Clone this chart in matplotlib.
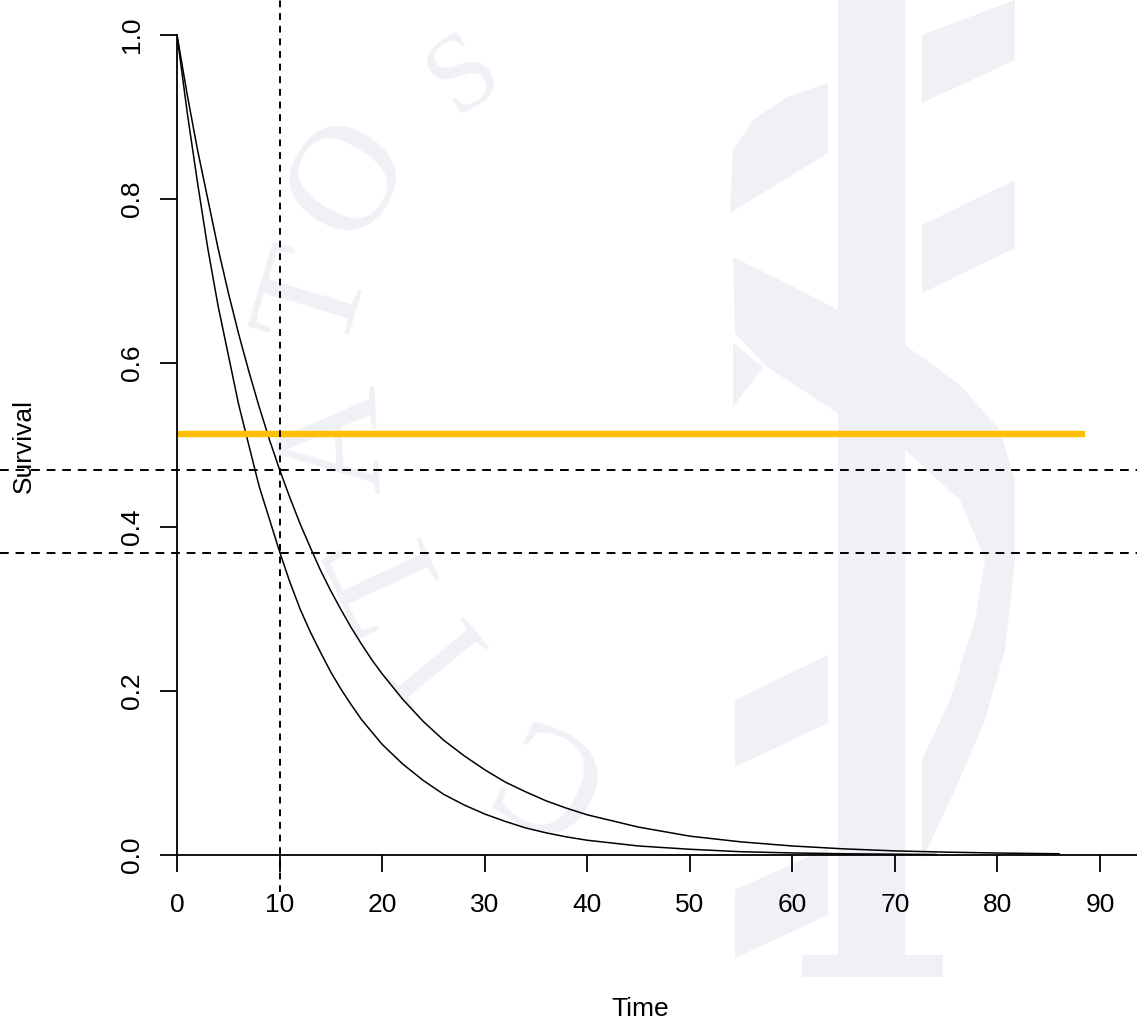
import matplotlib

matplotlib.use("Agg")
import matplotlib.pyplot as plt
import numpy as np
from matplotlib.patches import Polygon

plt.rcParams["font.family"] = ["Liberation Sans", "DejaVu Sans"]

# survival curves
time_fast = [0, 1, 2, 3, 4, 5, 6, 7, 8, 9, 10, 11, 12, 13, 14, 15, 16, 17, 18, 19, 20,
             22, 24, 26, 28, 30, 32, 34, 36, 38, 40, 45, 50, 55, 60, 65, 70, 74]
surv_fast = [1.0, 0.905, 0.82, 0.74, 0.67, 0.61, 0.55, 0.50, 0.45, 0.41, 0.37, 0.333,
             0.30, 0.272, 0.247, 0.223, 0.202, 0.183, 0.165, 0.15, 0.135, 0.111,
             0.091, 0.074, 0.061, 0.05, 0.041, 0.033, 0.027, 0.022, 0.018, 0.011,
             0.007, 0.004, 0.0025, 0.0015, 0.001, 0.0006]
time_slow = [0, 1, 2, 3, 4, 5, 6, 7, 8, 9, 10, 11, 12, 13, 14, 15, 16, 17, 18, 19, 20,
             22, 24, 26, 28, 30, 32, 34, 36, 38, 40, 45, 50, 55, 60, 65, 70, 75, 80, 86]
surv_slow = [1.0, 0.927, 0.86, 0.80, 0.74, 0.686, 0.636, 0.59, 0.547, 0.507, 0.47,
             0.436, 0.404, 0.375, 0.347, 0.322, 0.299, 0.277, 0.257, 0.238, 0.221,
             0.19, 0.163, 0.14, 0.121, 0.104, 0.089, 0.077, 0.066, 0.057, 0.049,
             0.034, 0.023, 0.016, 0.011, 0.0075, 0.005, 0.0035, 0.0024, 0.0015]

ref_levels = [0.47, 0.368]   # dashed horizontal lines
ref_time = 10                # dashed vertical line
target_level = 0.513         # orange line
target_end = 88.5

x_ticks = [0, 10, 20, 30, 40, 50, 60, 70, 80, 90]
y_ticks = [0.0, 0.2, 0.4, 0.6, 0.8, 1.0]

W, H = 1137, 1025
fig = plt.figure(figsize=(W / 100, H / 100), dpi=100)

# faint logo watermark in the background (pixel coordinates)
bg = fig.add_axes([0, 0, 1, 1], zorder=0)
bg.set_xlim(0, W)
bg.set_ylim(H, 0)
bg.axis("off")
wm = "#f0f1f7"
shapes = [
    [(838, 0), (905, 0), (905, 955), (838, 955)],
    [(802, 955), (943, 955), (943, 977), (802, 977)],
    [(922, 35), (1015, 0), (1015, 60), (922, 103)],
    [(922, 225), (1015, 180), (1015, 248), (922, 293)],
    [(735, 700), (828, 655), (828, 723), (735, 767)],
    [(735, 890), (828, 848), (828, 915), (735, 958)],
    [(730, 213), (733, 150), (753, 120), (787, 97), (828, 83), (828, 153), (730, 213)],
    [(733, 257), (790, 285), (838, 310), (905, 345), (960, 385), (1000, 430),
     (1015, 480), (1015, 560), (1005, 650), (985, 720), (955, 790), (922, 860),
     (922, 760), (950, 700), (975, 620), (985, 560), (960, 500), (905, 450),
     (838, 413), (767, 367), (735, 333)],
    [(733, 343), (763, 367), (733, 407)],
]
for pts in shapes:
    bg.add_patch(Polygon(pts, closed=True, facecolor=wm, edgecolor="none"))

cx, cy = 720, 420
letters = [("S", 465, 75, 80), ("O", 352, 180, 110), ("T", 320, 300, 110),
           ("A", 340, 440, 110), ("T", 395, 570, 110), ("I", 440, 650, 110),
           ("C", 545, 765, 110)]
for ch, lx, ly, size in letters:
    rot = np.degrees(np.arctan2(-(lx - cx), -(ly - cy)))
    bg.text(lx, ly, ch, fontsize=size, family="Liberation Serif", color=wm,
            rotation=rot, ha="center", va="center", rotation_mode="anchor")

# main plot
left, bottom = 177 / W, 1 - 855 / H
ax = fig.add_axes([left, bottom, 1 - left, 1 - bottom], zorder=1)
ax.patch.set_alpha(0)
ax.set_xlim(0, (W - 177) / 10.256)
ax.set_ylim(0, 855 / 820)

ax.plot(time_fast, surv_fast, color="black", lw=1.1)
ax.plot(time_slow, surv_slow, color="black", lw=1.1)
ax.plot([0, target_end], [target_level, target_level], color="#ffbf00", lw=4.6,
        solid_capstyle="butt")

dash = (0, (4.5, 3.5))
xmin_frac = -left / (1 - left)
for lvl in ref_levels:
    ax.axhline(lvl, xmin=xmin_frac, xmax=1, color="black", lw=1.4,
               linestyle=dash, clip_on=False)
ax.axvline(ref_time, ymin=-37 / 855, ymax=1, color="black", lw=1.4,
           linestyle=(0, (3.5, 3)), clip_on=False)

for side in ["top", "right"]:
    ax.spines[side].set_visible(False)
ax.spines["left"].set_bounds(0, 1)
for side in ["left", "bottom"]:
    ax.spines[side].set_linewidth(1.3)

ax.set_xticks(x_ticks)
ax.set_xticklabels([str(t) for t in x_ticks])
ax.set_yticks(y_ticks)
ax.set_yticklabels([f"{v:.1f}" for v in y_ticks], rotation=90, va="center")
ax.tick_params(axis="both", direction="out", length=12, width=1.3, labelsize=19,
               colors="black")
ax.tick_params(axis="x", pad=15)
ax.tick_params(axis="y", pad=12)

fig.text(640 / W, 1 - 1009 / H, "Time", fontsize=19, ha="center", va="center")
fig.text(24 / W, 1 - 446 / H, "Survival", fontsize=19, ha="center", va="center",
         rotation=90)

fig.savefig("out.png", dpi=100)
plt.close(fig)
